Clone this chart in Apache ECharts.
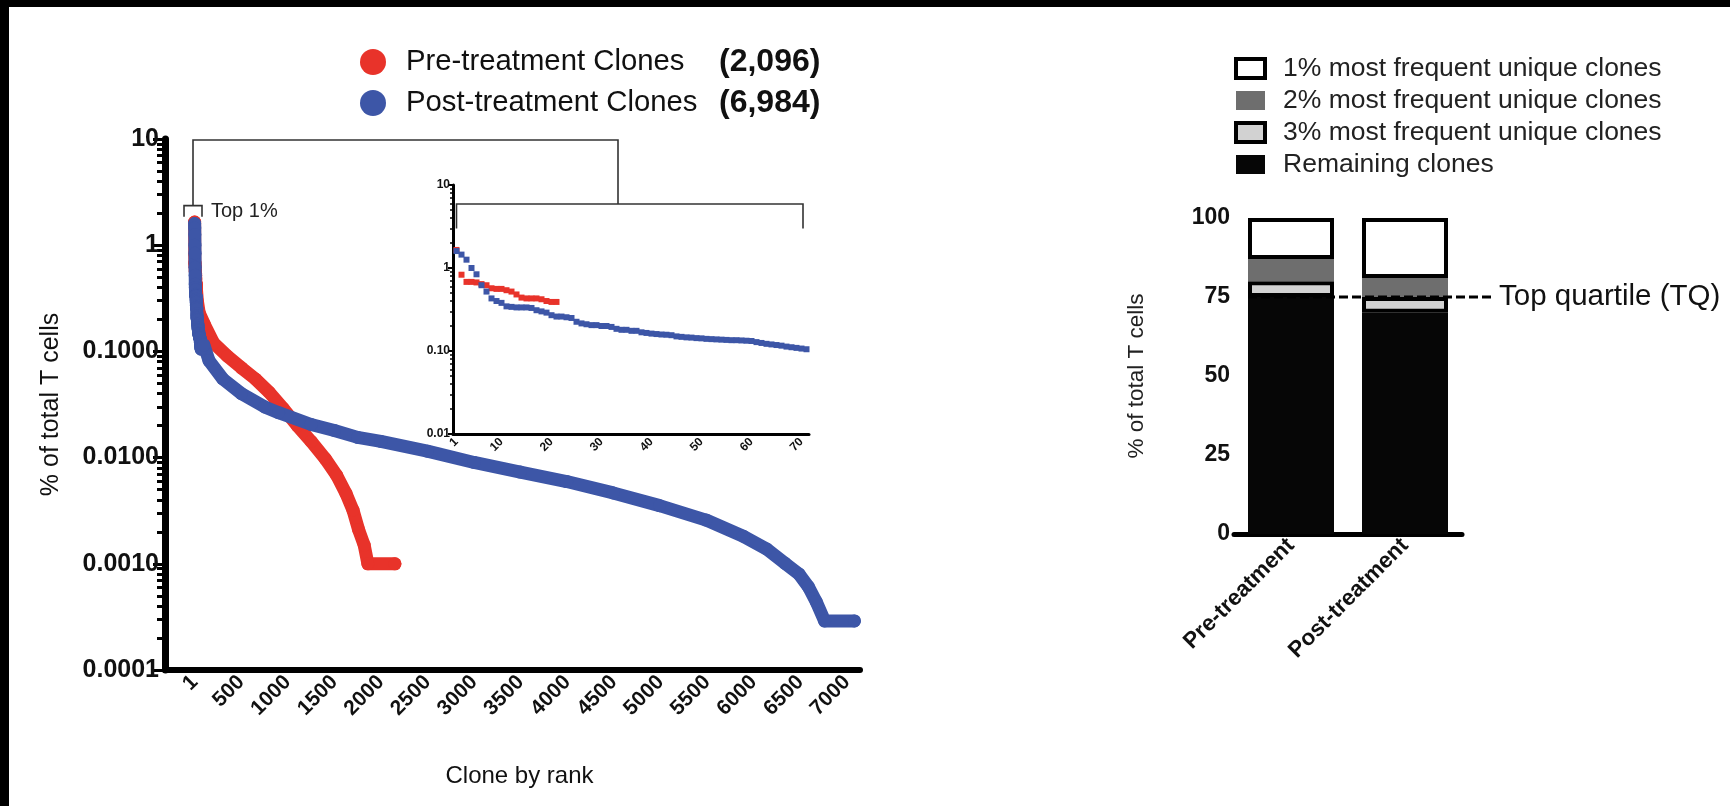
<!DOCTYPE html>
<html>
<head>
<meta charset="utf-8">
<script src="https://cdn.jsdelivr.net/npm/echarts@6/dist/echarts.min.js"></script>
<style>
html,body{margin:0;padding:0;background:#fff;}
#c{position:absolute;left:0;top:0;width:1730px;height:806px;}
.bt{position:absolute;left:0;top:0;width:1730px;height:7px;background:#000;z-index:5;}
.bl{position:absolute;left:0;top:0;width:9px;height:806px;background:#000;z-index:5;}
</style>
</head>
<body>
<div id="c"></div>
<div class="bt"></div><div class="bl"></div>
<script>
// ---------- data ----------
const legendNames = ['Pre-treatment Clones', 'Post-treatment Clones'];
const cloneCounts = ['(2,096)', '(6,984)'];
const rankTicks = [1, 500, 1000, 1500, 2000, 2500, 3000, 3500, 4000, 4500, 5000, 5500, 6000, 6500, 7000];
const yTickValues = [0.0001, 0.001, 0.01, 0.1, 1, 10];
const yTickLabels = ['0.0001', '0.0010', '0.0100', '0.1000', '1', '10'];
const insetRankTicks = [1, 10, 20, 30, 40, 50, 60, 70];
const insetYTicks = [0.01, 0.1, 1, 10];
const insetYLabels = ['0.01', '0.10', '1', '10'];

// top 1% clones, value by rank (1..n)
const preTop = [1.65, 0.83, 0.68, 0.68, 0.67, 0.64, 0.62, 0.57, 0.56, 0.56, 0.54, 0.52, 0.48, 0.44, 0.43, 0.43, 0.43, 0.42, 0.40, 0.39, 0.39];
const postTop = [1.6, 1.45, 1.26, 1.0, 0.84, 0.62, 0.52, 0.43, 0.40, 0.38,
  0.345, 0.34, 0.335, 0.335, 0.335, 0.33,
  0.31, 0.30, 0.29,
  0.27, 0.26, 0.26,
  0.255, 0.25,
  0.225, 0.215, 0.21,
  0.205, 0.205, 0.2, 0.2, 0.195,
  0.185, 0.18, 0.18, 0.175, 0.175,
  0.168, 0.165, 0.162, 0.16, 0.158, 0.157, 0.155,
  0.15, 0.148, 0.146, 0.145, 0.143, 0.142,
  0.14, 0.139, 0.138, 0.137, 0.136, 0.135, 0.135, 0.134, 0.133, 0.132,
  0.128, 0.125, 0.122, 0.12, 0.118, 0.116,
  0.113, 0.111, 0.109, 0.107, 0.105];

// rest of the rank curves (rank, % of total T cells)
const preTailRanks = [30, 50, 105, 204, 354, 503, 653, 803, 952, 1102, 1251, 1401, 1525, 1625, 1700, 1760, 1820, 1860, 2150];
const preTailValues = [0.30, 0.23, 0.18, 0.12, 0.09, 0.07, 0.055, 0.041, 0.029, 0.020, 0.0142, 0.0098, 0.0068, 0.0046, 0.0032, 0.0021, 0.0015, 0.001, 0.001];
const postTailRanks = [100, 155, 304, 503, 753, 902, 1251, 1500, 1750, 1999, 2498, 2999, 3495, 3993, 4492, 4990, 5489, 5887, 6137, 6336, 6486, 6585, 6670, 6760, 7080];
const postTailValues = [0.115, 0.082, 0.055, 0.040, 0.030, 0.0265, 0.0205, 0.018, 0.0155, 0.0142, 0.0115, 0.0090, 0.0073, 0.00595, 0.00465, 0.00353, 0.00258, 0.00182, 0.00138, 0.00101, 0.00080, 0.00061, 0.00044, 0.00029, 0.00029];

// stacked bars
const barCategories = ['Pre-treatment', 'Post-treatment'];
const barSeriesNames = ['1% most frequent unique clones', '2% most frequent unique clones', '3% most frequent unique clones', 'Remaining clones'];
const remainingClones = [75, 70];
const top3Clones = [5, 5];
const top2Clones = [7, 6];
const top1Clones = [13, 19];
const tqValue = 75;
const tqLabel = 'Top quartile (TQ)';

// annotation anchors (data space)
const top1Bracket = { ranks: [-113, 80], top: 2.36, legBottom: 1.85, label: 'Top 1%' };
const bigBracketTop = 9.8;
const insetBracket = { ranks: [1, 70.3], top: 5.9, legBottom: 3.0, join: 33.3 };

// ---------- build ----------
const FONT = 'Liberation Sans, Arial, Helvetica, sans-serif';
const RED = '#e8332a', BLUE = '#3d56a7';
const pairs = (vals) => vals.map((v, i) => [i + 1, v]);
const preMain = pairs(preTop).concat(preTailRanks.map((r, i) => [r, preTailValues[i]]));
const postMain = pairs(postTop).concat(postTailRanks.map((r, i) => [r, postTailValues[i]]));
const minorOf = (decadeMin, decadeMax) => {
  const out = [];
  for (let d = decadeMin; d < decadeMax; d++) for (let k = 2; k <= 9; k++) out.push(+(k * Math.pow(10, d)).toPrecision(3));
  return out;
};
const labelFrom = (vals, labels) => (v) => {
  let best = 0, bd = Infinity;
  vals.forEach((t, i) => { const d = Math.abs(Math.log10(t) - Math.log10(v)); if (d < bd) { bd = d; best = i; } });
  return labels[best];
};

const chart = echarts.init(document.getElementById('c'), null, { renderer: 'canvas', width: 1730, height: 806 });

const option = {
  animation: false,
  backgroundColor: '#fff',
  textStyle: { fontFamily: FONT, color: '#111' },
  grid: [
    { left: 165, top: 139, width: 695, height: 531 },
    { left: 453, top: 185, width: 356, height: 249 },
    { left: 1234, top: 218, width: 228, height: 316 }
  ],
  legend: [
    {
      data: legendNames.map(n => ({ name: n, icon: 'circle' })),
      orient: 'vertical', left: 355, top: 41, itemWidth: 26, itemHeight: 26, itemGap: 9,
      selectedMode: false,
      formatter: (name) => '{n|' + name + '}{c|' + cloneCounts[legendNames.indexOf(name)] + '}',
      textStyle: {
        rich: {
          n: { fontSize: 29.3, fontFamily: FONT, color: '#111', width: 313, padding: [0, 0, 0, 15] },
          c: { fontSize: 32, fontFamily: FONT, fontWeight: 'bold', color: '#111' }
        }
      }
    },
    {
      data: [
        { name: barSeriesNames[0], icon: 'rect', itemStyle: { color: '#fff', borderColor: '#000', borderWidth: 4 } },
        { name: barSeriesNames[1], icon: 'rect', itemStyle: { color: '#6e6e6e', borderWidth: 0 } },
        { name: barSeriesNames[2], icon: 'rect', itemStyle: { color: '#d2d2d2', borderColor: '#000', borderWidth: 4 } },
        { name: barSeriesNames[3], icon: 'rect', itemStyle: { color: '#060606', borderWidth: 0 } }
      ],
      orient: 'vertical', left: 1229, top: 50, itemWidth: 29, itemHeight: 19, itemGap: 5,
      selectedMode: false,
      textStyle: { fontSize: 26.5, fontFamily: FONT, color: '#222', padding: [0, 0, 0, 13] }
    }
  ],
  xAxis: [
    {
      type: 'value', gridIndex: 0, min: -317, max: 7140,
      axisLine: { onZero: false, lineStyle: { color: '#000', width: 6 } },
      axisTick: { show: false }, splitLine: { show: false },
      axisLabel: { customValues: rankTicks, formatter: (v) => String(v), rotate: 45, fontSize: 21, fontWeight: 'bold', color: '#111', margin: 9, fontFamily: FONT },
      name: 'Clone by rank', nameLocation: 'middle', nameGap: 94,
      nameTextStyle: { fontSize: 24, color: '#111', fontFamily: FONT, padding: [0, 0, 0, 14] }
    },
    {
      type: 'value', gridIndex: 1, min: 0.3, max: 71.5,
      axisLine: { onZero: false, lineStyle: { color: '#000', width: 3 } },
      axisTick: { show: false }, splitLine: { show: false },
      axisLabel: { customValues: insetRankTicks, formatter: (v) => String(v), rotate: 45, fontSize: 12, fontWeight: 'bold', color: '#111', margin: 6, fontFamily: FONT }
    },
    {
      type: 'category', gridIndex: 2, data: barCategories,
      axisLine: { lineStyle: { color: '#000', width: 5 } },
      axisTick: { alignWithLabel: true, length: 10, lineStyle: { color: '#000', width: 4 } },
      axisLabel: { rotate: 45, fontSize: 22.5, fontWeight: 'bold', color: '#111', margin: 8, fontFamily: FONT }
    }
  ],
  yAxis: [
    {
      type: 'log', logBase: 10, gridIndex: 0, min: 0.0001, max: 10, position: 'left',
      axisLine: { onZero: false, lineStyle: { color: '#000', width: 7 } },
      axisTick: { customValues: yTickValues, length: 12, lineStyle: { color: '#000', width: 3 } },
      splitLine: { show: false },
      axisLabel: { customValues: yTickValues, formatter: labelFrom(yTickValues, yTickLabels), fontSize: 25, fontWeight: 'bold', color: '#111', margin: 6, fontFamily: FONT },
      name: '% of total T cells', nameLocation: 'middle', nameGap: 101,
      nameTextStyle: { fontSize: 25, color: '#111', fontFamily: FONT }
    },
    {
      type: 'log', logBase: 10, gridIndex: 0, min: 0.0001, max: 10, position: 'left', offset: 0,
      axisLine: { show: false, onZero: false }, splitLine: { show: false }, axisLabel: { show: false },
      axisTick: { customValues: minorOf(-4, 1), length: 8, lineStyle: { color: '#000', width: 3 } }
    },
    {
      type: 'log', logBase: 10, gridIndex: 1, min: 0.01, max: 10, position: 'left',
      axisLine: { onZero: false, lineStyle: { color: '#000', width: 3 } },
      axisTick: { customValues: insetYTicks, length: 5, lineStyle: { color: '#000', width: 2 } },
      splitLine: { show: false },
      axisLabel: { customValues: insetYTicks, formatter: labelFrom(insetYTicks, insetYLabels), fontSize: 12, fontWeight: 'bold', color: '#111', margin: 3, fontFamily: FONT }
    },
    {
      type: 'log', logBase: 10, gridIndex: 1, min: 0.01, max: 10, position: 'left', offset: 0,
      axisLine: { show: false, onZero: false }, splitLine: { show: false }, axisLabel: { show: false },
      axisTick: { customValues: minorOf(-2, 1), length: 3, lineStyle: { color: '#000', width: 1.5 } }
    },
    {
      type: 'value', gridIndex: 2, min: 0, max: 100, interval: 25, position: 'left',
      axisLine: { lineStyle: { color: '#000', width: 5 } },
      axisTick: { length: 10, lineStyle: { color: '#000', width: 4 } },
      splitLine: { show: false },
      axisLabel: { fontSize: 23, fontWeight: 'bold', color: '#111', margin: 4, fontFamily: FONT },
      name: '% of total T cells', nameLocation: 'middle', nameGap: 86,
      nameTextStyle: { fontSize: 22.5, color: '#222', fontFamily: FONT }
    }
  ],
  series: [
    {
      name: legendNames[0], type: 'line', xAxisIndex: 0, yAxisIndex: 0, data: preMain,
      symbol: 'circle', symbolSize: 13, showSymbol: true, showAllSymbol: true,
      itemStyle: { color: RED }, lineStyle: { color: RED, width: 13, cap: 'round', join: 'round' }, z: 2
    },
    {
      name: legendNames[1], type: 'line', xAxisIndex: 0, yAxisIndex: 0, data: postMain,
      symbol: 'circle', symbolSize: 13, showSymbol: true, showAllSymbol: true,
      itemStyle: { color: BLUE }, lineStyle: { color: BLUE, width: 13, cap: 'round', join: 'round' }, z: 3
    },
    {
      name: 'inset-pre', type: 'scatter', xAxisIndex: 1, yAxisIndex: 2, data: pairs(preTop),
      symbol: 'rect', symbolSize: 6, itemStyle: { color: RED, opacity: 1 }, z: 4
    },
    {
      name: 'inset-post', type: 'scatter', xAxisIndex: 1, yAxisIndex: 2, data: pairs(postTop),
      symbol: 'rect', symbolSize: 6, itemStyle: { color: BLUE, opacity: 1 }, z: 5
    },
    {
      name: barSeriesNames[3], type: 'bar', stack: 'tot', xAxisIndex: 2, yAxisIndex: 4, data: remainingClones,
      barWidth: 86, itemStyle: { color: '#060606' }
    },
    {
      name: barSeriesNames[2], type: 'bar', stack: 'tot', xAxisIndex: 2, yAxisIndex: 4, data: top3Clones,
      barWidth: 86, itemStyle: { color: '#d2d2d2', borderColor: '#000', borderWidth: 4 }
    },
    {
      name: barSeriesNames[1], type: 'bar', stack: 'tot', xAxisIndex: 2, yAxisIndex: 4, data: top2Clones,
      barWidth: 86, itemStyle: { color: '#6e6e6e' }, z: 3
    },
    {
      name: barSeriesNames[0], type: 'bar', stack: 'tot', xAxisIndex: 2, yAxisIndex: 4, data: top1Clones,
      barWidth: 86, itemStyle: { color: '#fff', borderColor: '#000', borderWidth: 4 }
    }
  ]
};
chart.setOption(option);

// ---------- annotations positioned through the axes ----------
const mx = (v) => chart.convertToPixel({ xAxisIndex: 0 }, v);
const my = (v) => chart.convertToPixel({ yAxisIndex: 0 }, v);
const ix = (v) => chart.convertToPixel({ xAxisIndex: 1 }, v);
const iy = (v) => chart.convertToPixel({ yAxisIndex: 2 }, v);
const bx = (v) => chart.convertToPixel({ xAxisIndex: 2 }, v);
const by = (v) => chart.convertToPixel({ yAxisIndex: 4 }, v);

const bL = mx(top1Bracket.ranks[0]), bR = mx(top1Bracket.ranks[1]);
const bMid = (bL + bR) / 2;
const joinX = ix(insetBracket.join);
const lineStyle = { stroke: '#333', lineWidth: 1.6, fill: null };
const tqY = by(tqValue);
const barLeft = bx(barCategories[0]) - 43;
const tqEnd = 1495;

chart.setOption({
  graphic: [
    { type: 'polyline', silent: true, z: 50, shape: { points: [[bL, my(top1Bracket.legBottom)], [bL, my(top1Bracket.top)], [bR, my(top1Bracket.top)], [bR, my(top1Bracket.legBottom)]] }, style: lineStyle },
    { type: 'polyline', silent: true, z: 50, shape: { points: [[bMid, my(top1Bracket.top)], [bMid, my(bigBracketTop)], [joinX, my(bigBracketTop)], [joinX, iy(insetBracket.top)]] }, style: lineStyle },
    { type: 'polyline', silent: true, z: 50, shape: { points: [[ix(insetBracket.ranks[0]), iy(insetBracket.legBottom)], [ix(insetBracket.ranks[0]), iy(insetBracket.top)], [ix(insetBracket.ranks[1]), iy(insetBracket.top)], [ix(insetBracket.ranks[1]), iy(insetBracket.legBottom)]] }, style: lineStyle },
    { type: 'text', silent: true, z: 50, x: bR + 9, y: my(top1Bracket.top) + 6, style: { text: top1Bracket.label, fontSize: 20, fontFamily: FONT, fill: '#222', verticalAlign: 'middle', align: 'left' } },
    { type: 'line', silent: true, z: 60, shape: { x1: barLeft, y1: tqY, x2: tqEnd, y2: tqY }, style: { stroke: '#000', lineWidth: 3, lineDash: [9, 4] } },
    { type: 'text', silent: true, z: 60, x: tqEnd + 4, y: tqY, style: { text: tqLabel, fontSize: 29.5, fontFamily: FONT, fill: '#111', verticalAlign: 'middle', align: 'left' } }
  ]
});
</script>
</body>
</html>
